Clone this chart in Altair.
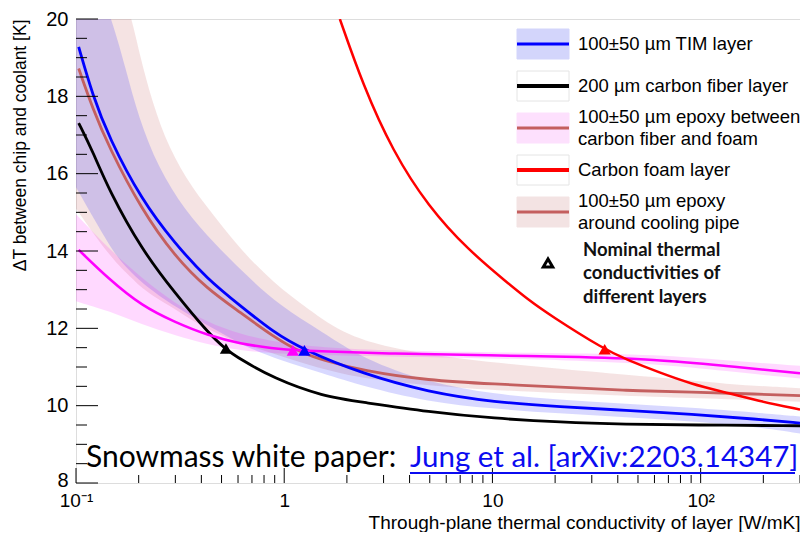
import altair as alt
import pandas as pd

# ---------------- data ----------------
# 100±50 um TIM layer (blue)
tim_x = [0.103, 0.12, 0.144, 0.207, 0.298, 0.428, 0.617, 0.887, 1.23, 2.39, 4.93, 10.2, 21.2, 43.8, 90.6, 187, 300]
tim_y = [19.28, 18.04, 16.93, 15.31, 14.20, 13.27, 12.58, 11.90, 11.45, 10.82, 10.35, 10.09, 9.97, 9.88, 9.78, 9.65, 9.55]
tim_band_x = [0.1, 0.149, 0.173, 0.2, 0.248, 0.332, 0.461, 0.663, 0.954, 1.53, 2.4, 4.9, 10, 21, 44, 90, 187, 300]
tim_band_hi = [22.5, 20.0, 18.72, 17.44, 16.16, 15.06, 14.2, 13.35, 12.58, 11.9, 11.2, 10.6, 10.3, 10.15, 10.05, 9.95, 9.82, 9.72]
tim_band_lo = [15.65, 14.0, 13.6, 13.25, 12.85, 12.42, 11.98, 11.5, 11.18, 10.84, 10.5, 10.1, 9.92, 9.8, 9.7, 9.6, 9.45, 9.28]

# 200 um carbon fiber layer (black)
cf_x = [0.103, 0.12, 0.144, 0.207, 0.298, 0.428, 0.525, 0.617, 0.887, 1.53, 2.39, 4.93, 10.2, 21.2, 43.8, 90.6, 300]
cf_y = [17.31, 16.59, 15.57, 14.03, 12.92, 11.90, 11.45, 11.20, 10.71, 10.24, 10.09, 9.84, 9.67, 9.57, 9.52, 9.50, 9.48]

# 100±50 um epoxy between carbon fiber and foam (magenta)
ep1_x = [0.103, 0.144, 0.207, 0.298, 0.428, 0.617, 0.887, 1.1, 3.44, 10.2, 21.2, 63, 130, 300]
ep1_y = [14.03, 13.27, 12.58, 12.16, 11.82, 11.60, 11.48, 11.43, 11.34, 11.30, 11.27, 11.20, 11.03, 10.84]
ep1_band_x = [0.1, 0.144, 0.207, 0.298, 0.428, 0.617, 0.887, 1.5, 3.44, 10.2, 21.2, 63, 130, 300]
ep1_band_hi = [14.95, 14.05, 13.3, 12.65, 12.15, 11.85, 11.65, 11.5, 11.42, 11.38, 11.36, 11.32, 11.17, 11.03]
ep1_band_lo = [12.7, 12.45, 12.1, 11.82, 11.58, 11.43, 11.35, 11.3, 11.27, 11.22, 11.18, 11.08, 10.9, 10.7]

# Carbon foam layer (red)
foam_x = [1.85, 2.39, 3.31, 4.93, 7.64, 11.8, 14.7, 19.0, 34.6, 43.8, 63, 90.6, 130, 187, 300]
foam_y = [20.0, 18.29, 16.59, 15.14, 14.03, 13.18, 12.76, 12.33, 11.45, 11.20, 10.86, 10.56, 10.35, 10.13, 9.90]

# 100±50 um epoxy around cooling pipe (rosy)
ep2_x = [0.103, 0.12, 0.144, 0.207, 0.298, 0.428, 0.617, 0.887, 1.23, 1.53, 2.39, 4.93, 10.2, 21.2, 43.8, 90.6, 187, 300]
ep2_y = [18.72, 17.70, 16.68, 15.06, 13.86, 13.01, 12.41, 11.78, 11.35, 11.18, 10.90, 10.65, 10.56, 10.48, 10.39, 10.35, 10.30, 10.26]
ep2_band_x = [0.1, 0.15, 0.186, 0.201, 0.232, 0.279, 0.36, 0.481, 0.621, 0.887, 1.3, 2.0, 3.44, 7.1, 21, 63, 130, 300]
ep2_band_hi = [24.0, 21.5, 20.0, 19.13, 17.85, 16.66, 15.63, 14.78, 14.02, 13.18, 12.5, 11.8, 11.46, 11.2, 10.95, 10.73, 10.56, 10.45]
ep2_band_lo = [15.1, 13.75, 13.3, 13.1, 12.85, 12.6, 12.2, 11.85, 11.6, 11.35, 11.05, 10.78, 10.6, 10.45, 10.32, 10.22, 10.17, 10.1]

# nominal thermal conductivities (triangles)
nom_layer = ["carbon fiber", "epoxy CF-foam", "TIM", "carbon foam"]
nom_x = [0.525, 1.1, 1.25, 34.6]
nom_y = [11.48, 11.43, 11.43, 11.46]

# axis ticks
y_major = [8, 10, 12, 14, 16, 18, 20]
y_minor = [8.5, 9, 9.5, 10.5, 11, 11.5, 12.5, 13, 13.5, 14.5, 15, 15.5, 16.5, 17, 17.5, 18.5, 19, 19.5]
x_major = [0.1, 1, 10, 100]
x_minor = [0.2, 0.3, 0.4, 0.5, 0.6, 0.7, 0.8, 0.9, 2, 3, 4, 5, 6, 7, 8, 9,
           20, 30, 40, 50, 60, 70, 80, 90, 200, 300]

legend_labels = [
    ["100±50 µm TIM layer"],
    ["200 µm carbon fiber layer"],
    ["100±50 µm epoxy between", "carbon fiber and foam"],
    ["Carbon foam layer"],
    ["100±50 µm epoxy", "around cooling pipe"],
]
nominal_label = ["Nominal thermal", "conductivities of", "different layers"]

# ---------------- styling / layout ----------------
W, H = 724, 464
TOP = 11  # top padding; plot area starts at page y = 8 + TOP
FONT = "Liberation Sans"
BLUE, BLACK, MAGENTA, RED, ROSY = "#0000ff", "#000000", "#ff00ff", "#ff0000", "#c45f5f"
INTERP = "basis"

xscale = alt.Scale(type="log", domain=[0.1, 300], nice=False)
yscale = alt.Scale(domain=[8, 20], nice=False, zero=False)

xaxis = alt.Axis(
    values=x_major, ticks=False, domain=False, grid=False, labelFlush=False,
    labelExpr="datum.value < 0.5 ? '10⁻¹' : (datum.value > 50 ? '10²' : format(datum.value, 'd'))",
    labelFont=FONT, labelFontSize=19, labelColor="black", labelPadding=8,
    title="Through-plane thermal conductivity of layer [W/mK]",
    titleFont=FONT, titleFontSize=19, titleFontWeight="normal", titleColor="black",
    titleX=W, titleY=45, titleAlign="right", titleBaseline="alphabetic",
)
yaxis = alt.Axis(
    values=y_major, ticks=False, domain=False, grid=False, labelFlush=False,
    labelFont=FONT, labelFontSize=20, labelColor="black", labelPadding=8,
    labelOffset=alt.condition("datum.value == 8", alt.value(-3), alt.value(0)),
    title="ΔT between chip and coolant [K]",
    titleFont=FONT, titleFontSize=17.5, titleFontWeight="normal", titleColor="black",
    titleAngle=270, titleX=-56, titleY=0, titleAlign="right", titleBaseline="middle",
)


def X(f="x"):
    return alt.X(f"{f}:Q", scale=xscale, axis=xaxis)


def Y(f="y"):
    return alt.Y(f"{f}:Q", scale=yscale, axis=yaxis)


def band(xs, hi, lo, color, op):
    df = pd.DataFrame({"x": xs, "hi": hi, "lo": lo})
    return alt.Chart(df).mark_area(color=color, opacity=op, interpolate=INTERP, clip=True).encode(
        x=X(), y=Y("hi"), y2="lo:Q")


def line(xs, ys, color, w):
    df = pd.DataFrame({"x": xs, "y": ys})
    return alt.Chart(df).mark_line(color=color, strokeWidth=w, interpolate=INTERP, clip=True).encode(
        x=X(), y=Y())


layers = []
layers.append(band(ep2_band_x, ep2_band_hi, ep2_band_lo, "#c86464", 0.18))
layers.append(band(tim_band_x, tim_band_hi, tim_band_lo, "#1a1aff", 0.17))
layers.append(band(ep1_band_x, ep1_band_hi, ep1_band_lo, "#ff00ff", 0.15))
layers.append(line(ep2_x, ep2_y, ROSY, 2.8))
layers.append(line(cf_x, cf_y, BLACK, 2.8))
layers.append(line(tim_x, tim_y, BLUE, 2.8))
layers.append(line(ep1_x, ep1_y, MAGENTA, 2.5))
layers.append(line(foam_x, foam_y, RED, 2.5))

nom_df = pd.DataFrame({"layer": nom_layer, "x": nom_x, "y": nom_y})
layers.append(alt.Chart(nom_df).mark_point(shape="triangle-up", filled=True, size=150, opacity=1).encode(
    x=X(), y=Y(),
    color=alt.Color("layer:N", scale=alt.Scale(domain=nom_layer, range=[BLACK, MAGENTA, BLUE, RED]), legend=None)))

# ticks inside the frame
layers.append(alt.Chart(pd.DataFrame({"y": y_major})).mark_rule(color="black", strokeWidth=1).encode(
    y=Y(), x=alt.value(0), x2=alt.value(22)))
layers.append(alt.Chart(pd.DataFrame({"y": y_minor})).mark_rule(color="black", strokeWidth=1).encode(
    y=Y(), x=alt.value(0), x2=alt.value(11)))
layers.append(alt.Chart(pd.DataFrame({"x": x_major})).mark_rule(color="black", strokeWidth=1).encode(
    x=X(), y=alt.value(H), y2=alt.value(H - 15)))
layers.append(alt.Chart(pd.DataFrame({"x": x_minor})).mark_rule(color="black", strokeWidth=1).encode(
    x=X(), y=alt.value(H), y2=alt.value(H - 8)))

# ---------------- manual legend (pixel positions inside the plot area) ----------------
one = pd.DataFrame({"k": [0]})
dy = 16 - (8 + TOP)  # convert reference page y to plot y
sw_x0, sw_x1 = 441, 493
centers = [28 + dy, 70 + dy, 112 + dy, 154 + dy, 196 + dy]
fills = ["#d3d5fb", "#ffffff", "#fde0fd", "#ffffff", "#f3e3e3"]
strokes = ["#d3d5fb", "#e4e4e4", "#fde0fd", "#e4e4e4", "#f3e3e3"]
lcolors = [BLUE, BLACK, ROSY, RED, ROSY]
lwidths = [3, 4, 3, 4, 3]
for i, c in enumerate(centers):
    layers.append(alt.Chart(one).mark_rect(fill=fills[i], stroke=strokes[i], strokeWidth=1).encode(
        x=alt.value(sw_x0), x2=alt.value(sw_x1), y=alt.value(c - 15), y2=alt.value(c + 15)))
    layers.append(alt.Chart(one).mark_rule(color=lcolors[i], strokeWidth=lwidths[i]).encode(
        x=alt.value(sw_x0), x2=alt.value(sw_x1), y=alt.value(c)))
    labs = legend_labels[i]
    n = len(labs)
    for j, t in enumerate(labs):
        yy = c + (j - (n - 1) / 2) * 21.5
        layers.append(alt.Chart(one).mark_text(align="left", baseline="middle", font=FONT, fontSize=18.5,
                                               color="black").encode(
            x=alt.value(502), y=alt.value(yy), text=alt.value(t)))

layers.append(alt.Chart(one).mark_point(shape="triangle-up", filled=False, stroke="black", strokeWidth=3,
                                        size=90, opacity=1).encode(x=alt.value(472), y=alt.value(247 + dy)))
for j, t in enumerate(nominal_label):
    layers.append(alt.Chart(one).mark_text(align="left", baseline="middle", font="Lato", fontSize=18.5,
                                           fontWeight="bold", color="#111111").encode(
        x=alt.value(507), y=alt.value(234 + dy + 23.3 * j), text=alt.value(t)))

# ---------------- annotation ----------------
base_y = 467 - (8 + TOP)
layers.append(alt.Chart(one).mark_text(align="left", baseline="alphabetic", font="Lato", fontSize=30,
                                       color="black").encode(
    x=alt.value(10), y=alt.value(base_y), text=alt.value("Snowmass white paper:")))
layers.append(alt.Chart(one).mark_text(align="left", baseline="alphabetic", font="Lato", fontSize=29.5,
                                       color="#0b0bf0").encode(
    x=alt.value(334), y=alt.value(base_y), text=alt.value("Jung et al. [arXiv:2203.14347]")))
layers.append(alt.Chart(one).mark_rule(color="#0b0bf0", strokeWidth=1.8).encode(
    x=alt.value(334), x2=alt.value(719), y=alt.value(base_y + 6)))

chart = alt.layer(*layers).properties(
    width=W, height=H,
    autosize=alt.AutoSizeParams(type="none"),
    padding={"left": 68, "top": TOP, "right": 0, "bottom": 49},
).configure_view(stroke="black", strokeWidth=1.2).configure(background="white")

chart.save("out.html", embed_options={"renderer": "svg", "actions": False})
